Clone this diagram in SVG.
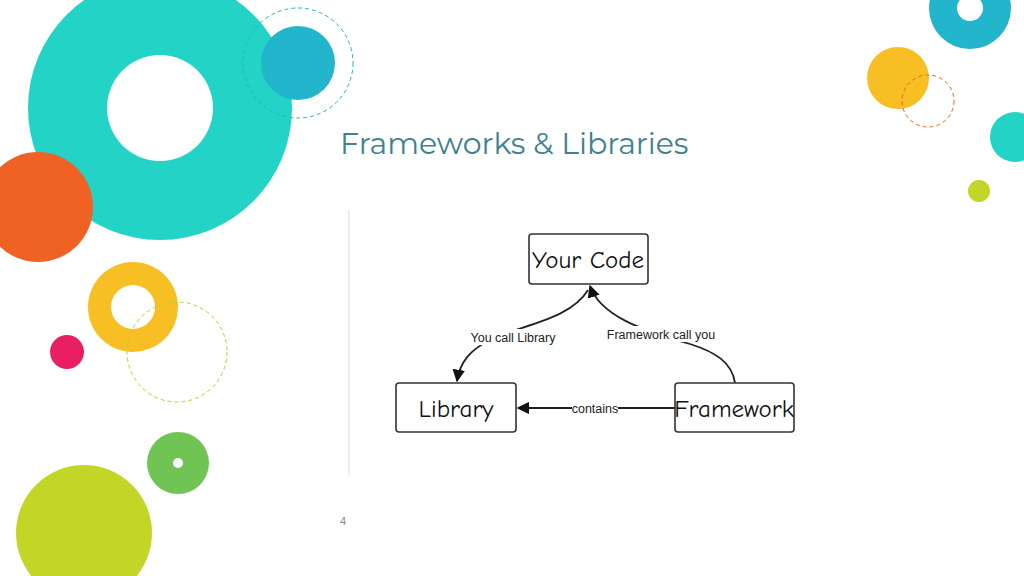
<svg xmlns="http://www.w3.org/2000/svg" width="1024" height="576" viewBox="0 0 1024 576">
<defs>
<style>
.box{fill:#fff;stroke:#333;stroke-width:1.6}
.nt{font-family:"Comic Neue","DejaVu Sans",sans-serif;font-size:25px;fill:#111;text-anchor:middle}
.el{font-family:"Liberation Sans",Arial,sans-serif;font-size:12.5px;fill:#222;text-anchor:middle}
.ln{fill:none;stroke:#222;stroke-width:1.8}
</style>
<marker id="ar" viewBox="0 0 10 10" refX="9" refY="5" markerWidth="7" markerHeight="7" orient="auto-start-reverse"><path d="M0,0L10,5L0,10z" fill="#111"/></marker>
</defs>
<rect width="1024" height="576" fill="#fff"/>
<g id="decor">
<circle cx="160" cy="108" r="132" fill="#22d3c6"/>
<circle cx="160" cy="108" r="53" fill="#fff"/>
<circle cx="38" cy="207" r="55" fill="#ef6224"/>
<path d="M28,153 A55,55 0 0 1 92,200 A132,132 0 0 1 65,190 A132,132 0 0 1 28,153z" fill="#c5552a" opacity="0.0"/>
<circle cx="298" cy="63" r="37" fill="#22b5cc"/>
<circle cx="298" cy="63" r="55" fill="none" stroke="#22b5cc" stroke-width="1" stroke-dasharray="4,3"/>
<circle cx="133" cy="307" r="45" fill="#f8bf25"/>
<circle cx="133" cy="307" r="22" fill="#fff"/>
<circle cx="177" cy="352" r="50" fill="none" stroke="#b8d12a" stroke-width="1" stroke-dasharray="4,3"/>
<circle cx="67" cy="352" r="17" fill="#e91e63"/>
<circle cx="178" cy="463" r="31" fill="#70c454"/>
<circle cx="178" cy="463" r="5" fill="#fff"/>
<circle cx="84" cy="533" r="68" fill="#c3d527"/>
<circle cx="970" cy="8" r="41" fill="#22b5cc"/>
<circle cx="970" cy="8" r="13" fill="#fff"/>
<circle cx="898" cy="78" r="31" fill="#f8bf25"/>
<circle cx="928" cy="101" r="26" fill="none" stroke="#ef6224" stroke-width="1" stroke-dasharray="4,3"/>
<circle cx="1015" cy="137" r="25" fill="#22d3c6"/>
<circle cx="979" cy="191" r="11" fill="#c3d527"/>
</g>
<text x="340" y="154" font-family="Montserrat,'Open Sans',sans-serif" font-size="30" fill="#3e8291">Frameworks &amp; Libraries</text>
<text x="340" y="525" font-family="'Liberation Sans',sans-serif" font-size="11" fill="#888">4</text>
<line x1="349" y1="210" x2="349" y2="476" stroke="#eee" stroke-width="2"/>
<g id="connectors">
<path class="ln" d="M588,290 C570,320 520,325 490,340 C470,350 460,362 457,381" marker-end="url(#ar)"/>
<path class="ln" d="M735,383 C732,362 715,352 690,344 C640,330 600,315 590,286" marker-end="url(#ar)"/>
<line class="ln" x1="675" y1="408" x2="518" y2="408" marker-end="url(#ar)"/>
<rect x="472" y="329" width="82" height="16" fill="#fff"/>
<text class="el" x="513" y="342">You call Library</text>
<rect x="608" y="326" width="106" height="16" fill="#fff"/>
<text class="el" x="661" y="339">Framework call you</text>
<rect x="572" y="401" width="46" height="15" fill="#fff"/>
<text class="el" x="595" y="413">contains</text>
</g>
<g id="yourcode"><rect class="box" x="529" y="234" width="119" height="50" rx="3"/><text class="nt" x="588" y="268">Your Code</text></g>
<g id="library"><rect class="box" x="396" y="383" width="120" height="49" rx="3"/><text class="nt" x="456" y="417">Library</text></g>
<g id="framework"><rect class="box" x="675" y="383" width="119" height="49" rx="3"/><text class="nt" x="734" y="417">Framework</text></g>
</svg>
